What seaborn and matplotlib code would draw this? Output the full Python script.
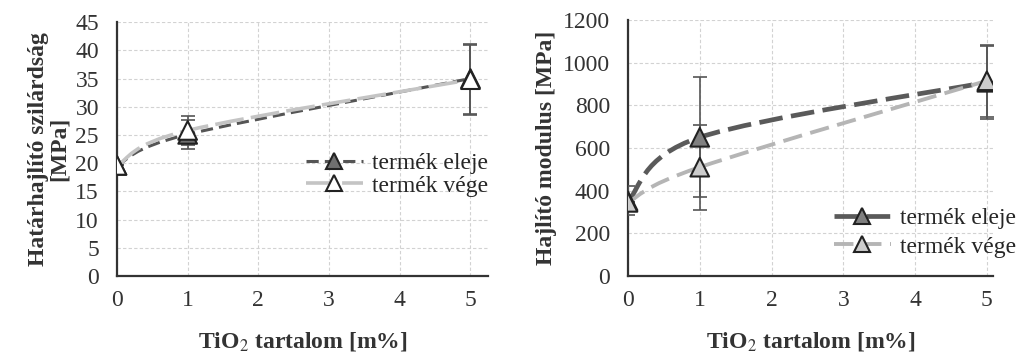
import numpy as np
import pandas as pd
import matplotlib.pyplot as plt
import seaborn as sns
from matplotlib.path import Path
from matplotlib.patches import PathPatch
from matplotlib.lines import Line2D

# TiO2 content [m%]
tio2 = [0, 1, 5]

# flexural strength [MPa]
strength_eleje = [19.6, 25.1, 35.0]
strength_eleje_err = [0.0, 2.6, 6.2]
strength_vege = [19.6, 25.8, 34.8]
strength_vege_err = [0.0, 2.6, 6.2]

# flexural modulus [MPa]
modulus_eleje = [352, 650, 908]
modulus_eleje_err = [68, 282, 170]
modulus_vege = [345, 510, 915]
modulus_vege_err = [0, 200, 170]

series_labels = ['termék eleje', 'termék vége']


def smooth_curve(ax, x, y, color, lw, dashes):
    # Excel-like smoothed line (Catmull-Rom bezier through the points)
    pts = np.column_stack([x, y]).astype(float)
    n = len(pts)
    verts = [tuple(pts[0])]
    codes = [Path.MOVETO]
    for i in range(n - 1):
        p0 = pts[max(i - 1, 0)]
        p1 = pts[i]
        p2 = pts[i + 1]
        p3 = pts[min(i + 2, n - 1)]
        c1 = p1 + (p2 - p0) / 6
        c2 = p2 - (p3 - p1) / 6
        verts += [tuple(c1), tuple(c2), tuple(p2)]
        codes += [Path.CURVE4] * 3
    patch = PathPatch(Path(verts, codes), fill=False, edgecolor=color,
                      lw=lw, linestyle=(0, dashes), capstyle='butt', zorder=2)
    ax.add_patch(patch)


def draw_panel(ax, y1, e1, y2, e2, styles, ylim, ystep, leg_anchor, leg_space):
    df = pd.DataFrame({
        'x': tio2 * 2,
        'y': y1 + y2,
        'series': [series_labels[0]] * 3 + [series_labels[1]] * 3,
    })
    for (yy, ee), st in zip([(y1, e1), (y2, e2)], styles):
        smooth_curve(ax, tio2, yy, st['line'], st['lw'], st['dashes'])
        ax.errorbar(tio2, yy, yerr=ee, fmt='none', ecolor='#555555',
                    elinewidth=1.2, capsize=5, capthick=1.2, zorder=3)
    sns.scatterplot(data=df, x='x', y='y', hue='series', ax=ax,
                    palette={series_labels[0]: styles[0]['face'],
                             series_labels[1]: styles[1]['face']},
                    marker='^', s=180, edgecolor='#222222', linewidth=1.5,
                    legend=False, zorder=4)
    ax.set_xlim(0, 5.25)
    ax.set_ylim(*ylim)
    ax.set_xticks(range(0, 6))
    ax.set_yticks(np.arange(ylim[0], ylim[1] + 1, ystep))
    ax.grid(True, color='#d2d2d2', linestyle=(0, (3, 2)), linewidth=0.8)
    for s in ['top', 'right']:
        ax.spines[s].set_visible(False)
    for s in ['left', 'bottom']:
        ax.spines[s].set_color('#333333')
        ax.spines[s].set_linewidth(1.6)
    ax.tick_params(length=0, labelsize=17, colors='#333333')
    ax.tick_params(axis='y', pad=13)
    ax.tick_params(axis='x', pad=10)
    ax.set_xlabel('TiO$_2$ tartalom [m%]', fontsize=17, fontweight='bold',
                  labelpad=14, color='#333333')
    handles = [Line2D([0], [0], color=st['line'], lw=st['lw'],
                      linestyle=(0, st['dashes']), marker='^', markersize=12,
                      markerfacecolor=st['face'], markeredgecolor='#222222',
                      markeredgewidth=1.5)
               for st in styles]
    ax.legend(handles, series_labels, loc='center right', frameon=False,
              fontsize=17, handlelength=2.4, handletextpad=0.4,
              labelspacing=leg_space, borderaxespad=0, borderpad=0,
              bbox_to_anchor=leg_anchor)


sns.set_theme(style='whitegrid')
plt.rcParams['font.family'] = ['Liberation Serif', 'DejaVu Serif']
plt.rcParams['mathtext.fontset'] = 'stix'

fig = plt.figure(figsize=(10.17, 3.57), dpi=100)
ax1 = fig.add_axes([0.115, 0.227, 0.365, 0.711])
ax2 = fig.add_axes([0.6175, 0.227, 0.3585, 0.717])

left_styles = [
    dict(line='#555555', lw=2.2, dashes=(4, 2), face='#707070'),
    dict(line='#c4c4c4', lw=2.6, dashes=(8, 2), face='white'),
]
right_styles = [
    dict(line='#5a5a5a', lw=3.4, dashes=(5, 1.8), face='#808080'),
    dict(line='#b5b5b5', lw=2.8, dashes=(5, 2.2), face='#cccccc'),
]

draw_panel(ax1, strength_eleje, strength_eleje_err, strength_vege,
           strength_vege_err, left_styles, (0, 45), 5, (1.0, 0.40), 0.05)
ax1.set_ylabel('Határhajlító szilárdság\n[MPa]', fontsize=17,
               fontweight='bold', color='#333333', labelpad=4,
               linespacing=1.0)

draw_panel(ax2, modulus_eleje, modulus_eleje_err, modulus_vege,
           modulus_vege_err, right_styles, (0, 1200), 200, (1.065, 0.17), 0.3)
ax2.set_xlim(0, 5.08)
ax2.set_ylabel('Hajlító modulus [MPa]', fontsize=17, fontweight='bold',
               color='#333333', labelpad=4)

fig.savefig('out.png', dpi=100)
